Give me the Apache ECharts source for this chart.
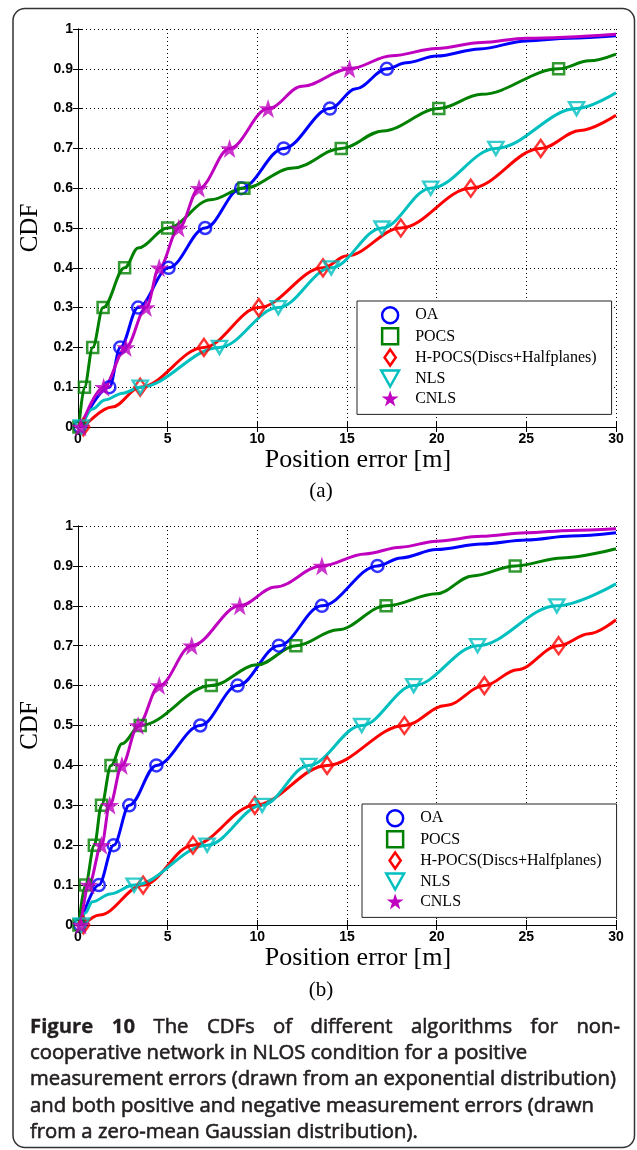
<!DOCTYPE html>
<html><head><meta charset="utf-8">
<script src="https://cdn.jsdelivr.net/npm/echarts@6/dist/echarts.min.js"></script>
<style>html,body{margin:0;padding:0;background:#fff}#c{width:637px;height:1150px}</style>
</head><body><div id="c"></div>
<script>
// ---------- data ----------
const levels = [0, 0.1, 0.2, 0.3, 0.4, 0.5, 0.6, 0.7, 0.8, 0.9];   // CDF levels where markers sit
const xTicks = [0, 5, 10, 15, 20, 25, 30];
const names = ['OA', 'POCS', 'H-POCS(Discs+Halfplanes)', 'NLS', 'CNLS'];

// panel (a): x position (m) at each CDF level, plus extra curve points [x, cdf]
const aOA = [0.1, 1.75, 2.36, 3.35, 5.05, 7.09, 9.1, 11.47, 14.05, 17.22];
const aOAExtra = [[15.5, 0.85], [18.3, 0.915], [20, 0.932], [22.4, 0.95], [25, 0.97], [27.4, 0.977], [30, 0.983]];
const aPOCS = [0.05, 0.36, 0.82, 1.4, 2.6, 5.0, 9.25, 14.68, 20.12, 26.8];
const aPOCSExtra = [[3.35, 0.45], [7.4, 0.571], [12, 0.651], [17, 0.744], [22.5, 0.836], [28.5, 0.92], [30, 0.937]];
const aHPOCS = [0.3, 3.47, 7.02, 10.08, 13.66, 18.0, 21.9, 25.8];
const aHPOCSExtra = [[1.9, 0.05], [15, 0.43], [28, 0.745], [30, 0.783]];
const aNLS = [0.2, 3.47, 7.89, 11.17, 14.12, 16.95, 19.67, 23.3, 27.8];
const aNLSExtra = [[0.8, 0.045], [1.5, 0.068], [2.5, 0.085], [30, 0.84]];
const aCNLS = [0.15, 1.43, 2.67, 3.8, 4.53, 5.62, 6.75, 8.45, 10.6, 15.14];
const aCNLSExtra = [[12.5, 0.856], [17.5, 0.933], [20, 0.951], [22.5, 0.966], [25, 0.977], [30, 0.987]];

// panel (b)
const bOA = [0.1, 1.16, 1.99, 2.86, 4.37, 6.82, 8.9, 11.2, 13.6, 16.7];
const bOAExtra = [[18, 0.92], [20, 0.941], [22.5, 0.955], [25, 0.965], [27.5, 0.975], [30, 0.983]];
const bPOCS = [0.05, 0.41, 0.91, 1.31, 1.84, 3.47, 7.43, 12.15, 17.18, 24.38];
const bPOCSExtra = [[2.45, 0.454], [10, 0.652], [14.5, 0.74], [20, 0.83], [22, 0.875], [27, 0.92], [30, 0.943]];
const bHPOCS = [0.3, 3.63, 6.41, 9.86, 13.89, 18.2, 22.66, 26.8];
const bHPOCSExtra = [[1.2, 0.025], [20.5, 0.55], [24.5, 0.64], [28.5, 0.73], [30, 0.765]];
const bNLS = [0.2, 3.13, 7.2, 10.27, 12.87, 15.82, 18.72, 22.28, 26.7];
const bNLSExtra = [[0.4, 0.03], [0.8, 0.058], [1.8, 0.078], [30, 0.855]];
const bCNLS = [0.15, 0.6, 1.31, 1.77, 2.45, 3.35, 4.53, 6.34, 9.02, 13.6];
const bCNLSExtra = [[11, 0.847], [16, 0.93], [18, 0.947], [20, 0.962], [22.5, 0.974], [25, 0.983], [27.5, 0.989], [30, 0.993]];

const captionLines = [
  'Figure 10 The CDFs of different algorithms for non-',
  'cooperative network in NLOS condition for a positive',
  'measurement errors (drawn from an exponential distribution)',
  'and both positive and negative measurement errors (drawn',
  'from a zero-mean Gaussian distribution).'
];

// ---------- styles ----------
const colors = ['#0000ff', '#008000', '#ff0000', '#00bfbf', '#bf00bf'];
const STAR = 'path://M50,0 L61.8,35.5 L99,35.5 L69,57.5 L80,93 L50,71 L20,93 L31,57.5 L1,35.5 L38.2,35.5 Z';
const DIAMOND = 'path://M35,0 L70,50 L35,100 L0,50 Z';
const SQUARE = 'path://M0,0 L100,0 L100,100 L0,100 Z';
const TRI_DOWN = 'path://M0,0 L100,0 L50,90 Z';
const symbols = ['circle', 'rect', DIAMOND, TRI_DOWN, STAR];
const symSizes = [12, 11, [12, 17], [15, 13], 19];
const legendIcons = ['circle', SQUARE, DIAMOND, TRI_DOWN, STAR];

function markerPts(xs) { return xs.map((x, i) => [x, levels[i]]); }
function linePts(xs, extra) {
  return markerPts(xs).concat(extra).sort((p, q) => p[0] - q[0] || p[1] - q[1]);
}

const panels = [
  [[aOA, aOAExtra], [aPOCS, aPOCSExtra], [aHPOCS, aHPOCSExtra], [aNLS, aNLSExtra], [aCNLS, aCNLSExtra]],
  [[bOA, bOAExtra], [bPOCS, bPOCSExtra], [bHPOCS, bHPOCSExtra], [bNLS, bNLSExtra], [bCNLS, bCNLSExtra]]
];

const series = [];
panels.forEach((panel, g) => {
  panel.forEach(([xs, extra], k) => {
    series.push({
      type: 'line', name: names[k], xAxisIndex: g, yAxisIndex: g,
      data: linePts(xs, extra), showSymbol: false, smooth: 0.35, smoothMonotone: 'x',
      lineStyle: { color: colors[k], width: 3 }, itemStyle: { color: colors[k] },
      z: 2 + k * 0.1, silent: true, animation: false
    });
    series.push({
      type: 'scatter', name: names[k], xAxisIndex: g, yAxisIndex: g,
      data: markerPts(xs), symbol: symbols[k], symbolSize: symSizes[k],
      itemStyle: k === 4 ? { color: colors[k] } :
        { color: 'rgba(0,0,0,0)', borderColor: colors[k], borderWidth: 2.5 },
      z: 3 + k * 0.1, silent: true, animation: false
    });
  });
});

const grids = [
  { left: 78, top: 29, width: 538, height: 398 },
  { left: 78, top: 526, width: 538, height: 399 }
];

const tickFont = { fontFamily: 'Liberation Sans', fontSize: 14, fontWeight: 'bold', color: '#000' };
const xAxes = [], yAxes = [];
grids.forEach((gr, g) => {
  xAxes.push({
    type: 'value', gridIndex: g, min: xTicks[0], max: xTicks[xTicks.length - 1], interval: 5,
    axisLine: { show: true, lineStyle: { color: '#000', width: 1 } },
    axisTick: { show: true, inside: true, length: 5, lineStyle: { color: '#000' } },
    axisLabel: { ...tickFont, margin: 5, showMinLabel: true, showMaxLabel: true },
    splitLine: { show: true, lineStyle: { color: '#000', width: 1, type: [1, 3] } },
    name: 'Position error [m]', nameLocation: 'middle', nameGap: 18,
    nameTextStyle: { fontFamily: 'Liberation Serif', fontSize: 26, color: '#000', padding: [0, 0, 0, 22] }
  });
  xAxes.push({
    type: 'value', gridIndex: g, position: 'top', min: 0, max: 30, interval: 5,
    axisLine: { show: true, lineStyle: { color: '#000', width: 1 } },
    axisTick: { show: true, inside: true, length: 5, lineStyle: { color: '#000' } },
    axisLabel: { show: false }, splitLine: { show: false }
  });
  yAxes.push({
    type: 'value', gridIndex: g, min: 0, max: 1, interval: 0.1,
    axisLine: { show: true, lineStyle: { color: '#000', width: 1 } },
    axisTick: { show: true, inside: true, length: 5, lineStyle: { color: '#000' } },
    axisLabel: { ...tickFont, margin: 5, formatter: v => String(Math.round(v * 10) / 10) },
    splitLine: { show: true, lineStyle: { color: '#000', width: 1, type: [1, 3] } },
    name: 'CDF', nameLocation: 'middle', nameGap: 31,
    nameTextStyle: { fontFamily: 'Liberation Serif', fontSize: 25, color: '#000' }
  });
  yAxes.push({
    type: 'value', gridIndex: g, position: 'right', min: 0, max: 1, interval: 0.1,
    axisLine: { show: true, lineStyle: { color: '#000', width: 1 } },
    axisTick: { show: true, inside: true, length: 5, lineStyle: { color: '#000' } },
    axisLabel: { show: false }, splitLine: { show: false }
  });
});
const xAxis = [xAxes[0], xAxes[2], xAxes[1], xAxes[3]];
const yAxis = [yAxes[0], yAxes[2], yAxes[1], yAxes[3]];

const legendData = names.map((n, k) => ({
  name: n, icon: legendIcons[k],
  itemStyle: k === 4 ? { color: colors[k], borderWidth: 0 } :
    { color: 'rgba(0,0,0,0)', borderColor: colors[k], borderWidth: 2.5 }
}));
const legendBase = {
  orient: 'vertical', itemWidth: 40, itemHeight: 16, itemGap: 2.6,
  padding: [5, 15, 8, 23], borderColor: '#222', borderWidth: 1, backgroundColor: '#fff',
  textStyle: { fontFamily: 'Liberation Serif', fontSize: 16, lineHeight: 16, color: '#000' },
  selectedMode: false, data: legendData, z: 10
};

// ---------- caption layout ----------
const capFont = '"Open Sans", "Noto Sans", sans-serif';
const capSize = 20.3;
const capColor = '#231f20';
const capX0 = 30, capX1 = 620, capY0 = 1027, capDy = 26.3;
const cv = document.createElement('canvas').getContext('2d');
function w(text, weight) { cv.font = weight + ' ' + capSize + 'px ' + capFont; return cv.measureText(text).width; }
const graphics = [];
graphics.push({ type: 'rect', shape: { x: 13, y: 8.5, width: 621.5, height: 1139, r: 12 },
  style: { fill: 'none', stroke: '#333', lineWidth: 1.5 }, silent: true });
graphics.push({ type: 'text', x: 321, y: 491, style: { text: '(a)', font: '21px "Liberation Serif"', fill: '#000', textAlign: 'center', textVerticalAlign: 'middle' } });
graphics.push({ type: 'text', x: 321, y: 990, style: { text: '(b)', font: '21px "Liberation Serif"', fill: '#000', textAlign: 'center', textVerticalAlign: 'middle' } });
(function () {
  const words = captionLines[0].split(' ');
  const weights = words.map((_, i) => i < 2 ? 'bold' : 'normal');
  const widths = words.map((t, i) => w(t, weights[i]));
  const gap = (capX1 - capX0 - widths.reduce((a, b) => a + b, 0)) / (words.length - 1);
  let x = capX0;
  words.forEach((t, i) => {
    graphics.push({ type: 'text', x: x, y: capY0, style: { text: t, font: weights[i] + ' ' + capSize + 'px ' + capFont, fill: capColor, stroke: capColor, lineWidth: i < 2 ? 0.3 : 0.6, textVerticalAlign: 'middle' } });
    x += widths[i] + gap;
  });
})();
captionLines.slice(1).forEach((t, i) => {
  graphics.push({ type: 'text', x: capX0, y: capY0 + capDy * (i + 1), style: { text: t, font: 'normal ' + capSize + 'px ' + capFont, fill: capColor, stroke: capColor, lineWidth: 0.6, textVerticalAlign: 'middle' } });
});

const chart = echarts.init(document.getElementById('c'), null, { renderer: 'canvas' });
chart.setOption({
  animation: false,
  backgroundColor: '#fff',
  grid: grids,
  xAxis: xAxis, yAxis: yAxis,
  legend: [
    { ...legendBase, left: 357, top: 301 },
    { ...legendBase, left: 362, top: 804 }
  ],
  series: series,
  graphic: graphics
});
</script></body></html>
